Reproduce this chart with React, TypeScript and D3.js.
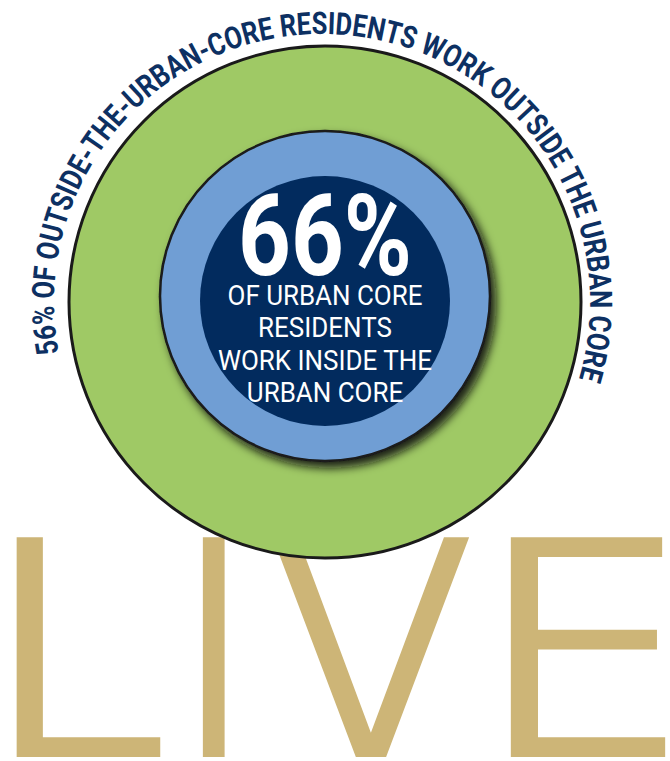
import React, { useEffect, useRef } from 'react';
import * as d3 from 'd3';

const headlineValue = 66;
const outerValue = 56;
const innerLabelLines = ['OF URBAN CORE', 'RESIDENTS', 'WORK INSIDE THE', 'URBAN CORE'];
const outerLabel = `${outerValue}% OF OUTSIDE-THE-URBAN-CORE RESIDENTS WORK OUTSIDE THE URBAN CORE`;
const bannerWord = 'LIVE';

const W = 670;
const H = 761;

// layout: horizontal ink extent of each banner letter, and the banner's cap top / baseline
const bannerBoxes = [
  [15, 164],
  [202, 226],
  [269, 474],
  [509, 669],
];
const bannerTop = 537;
const bannerBase = 757;

const CircleInfographic = () => {
  const ref = useRef<SVGSVGElement>(null);

  useEffect(() => {
    const svg = d3.select(ref.current);
    svg.selectAll('*').remove();

    const cx = 325;
    const navy = '#022b5e';

    const defs = svg.append('defs');
    const f = defs
      .append('filter')
      .attr('id', 'ringShadow')
      .attr('x', '-20%')
      .attr('y', '-20%')
      .attr('width', '150%')
      .attr('height', '150%');
    f.append('feDropShadow')
      .attr('dx', 5)
      .attr('dy', 6)
      .attr('stdDeviation', 5)
      .attr('flood-color', '#111')
      .attr('flood-opacity', 0.9);

    // big word behind the rings, each letter fitted to its box
    const fam = '"DejaVu Sans", Lato, sans-serif';
    const er = 3; // white stroke eats this much off each side
    const ctx = document.createElement('canvas').getContext('2d')!;
    ctx.font = `400 100px ${fam}`;
    const capAt100 = ctx.measureText('E').actualBoundingBoxAscent || 72.9;
    const size = ((bannerBase - bannerTop + 2 * er) / capAt100) * 100;
    ctx.font = `400 ${size}px ${fam}`;

    const banner = svg.append('g');
    bannerWord.split('').forEach((ch, i) => {
      const m = ctx.measureText(ch);
      const ink = m.actualBoundingBoxLeft + m.actualBoundingBoxRight;
      const [x0, x1] = bannerBoxes[i];
      const sx = (x1 - x0 + 2 * er) / ink;
      const tx = x0 - er + m.actualBoundingBoxLeft * sx;
      banner
        .append('text')
        .attr('transform', `translate(${tx},${bannerBase + er}) scale(${sx},1)`)
        .style('font-family', fam)
        .style('font-weight', 400)
        .style('font-size', `${size}px`)
        .attr('fill', '#cdb577')
        .attr('stroke', '#fff')
        .attr('stroke-width', 2 * er)
        .text(ch);
    });

    // outer ring
    svg
      .append('circle')
      .attr('cx', cx)
      .attr('cy', 302)
      .attr('r', 256)
      .attr('fill', '#9fc965')
      .attr('stroke', '#1a1a1a')
      .attr('stroke-width', 3);

    // middle ring with shadow
    svg
      .append('circle')
      .attr('cx', cx)
      .attr('cy', 296)
      .attr('r', 165)
      .attr('fill', '#6f9ed4')
      .attr('stroke', '#1a1a1a')
      .attr('stroke-width', 2.5)
      .attr('filter', 'url(#ringShadow)');

    // core
    svg
      .append('circle')
      .attr('cx', cx)
      .attr('cy', 301)
      .attr('r', 125)
      .attr('fill', navy);

    // headline number
    svg
      .append('text')
      .attr('x', cx - 87)
      .attr('y', 275)
      .attr('textLength', 174)
      .attr('lengthAdjust', 'spacingAndGlyphs')
      .style('font-family', 'Roboto, sans-serif')
      .style('font-weight', 700)
      .style('font-size', '114px')
      .attr('fill', '#fff')
      .text(`${headlineValue}%`);

    // label lines
    const lineY = d3
      .scaleLinear()
      .domain([0, innerLabelLines.length - 1])
      .range([305, 402]);

    const lines = svg
      .append('g')
      .selectAll('text')
      .data(innerLabelLines)
      .join('text')
      .attr('y', (_, i) => lineY(i))
      .style('font-family', 'Roboto, sans-serif')
      .style('font-weight', 400)
      .style('font-size', '28px')
      .attr('fill', '#fff')
      .text(d => d);

    const natural = lines.nodes().map(n => (n as SVGTextElement).getComputedTextLength());
    const k = 214 / (d3.max(natural) || 1);
    lines
      .attr('textLength', (_, i) => natural[i] * k)
      .attr('lengthAdjust', 'spacingAndGlyphs')
      .attr('x', (_, i) => cx - (natural[i] * k) / 2);

    // curved label around the outer ring
    const toRad = (deg: number) => (deg * Math.PI) / 180;
    const arcAngle = d3.scaleLinear().domain([0, 1]).range([-101, 106.5]);
    const arcR = 268;
    const a0 = toRad(arcAngle(0) - 90);
    const a1 = toRad(arcAngle(1) - 90);
    const p = d3.path();
    p.arc(cx - 3, 302, arcR, a0, a1, false);
    defs.append('path').attr('id', 'labelArc').attr('d', p.toString());

    const arcLen = arcR * (a1 - a0);
    svg
      .append('text')
      .style('font-family', 'Roboto, sans-serif')
      .style('font-weight', 700)
      .style('font-size', '31px')
      .attr('fill', '#0d3062')
      .append('textPath')
      .attr('href', '#labelArc')
      .attr('startOffset', 0)
      .attr('textLength', arcLen)
      .attr('lengthAdjust', 'spacingAndGlyphs')
      .text(outerLabel);
  }, []);

  return <svg ref={ref} width={W} height={H} style={{ display: 'block', background: '#fff' }} />;
};

export default function App() {
  return (
    <div style={{ position: 'absolute', left: 0, top: 0 }}>
      <CircleInfographic />
    </div>
  );
}
